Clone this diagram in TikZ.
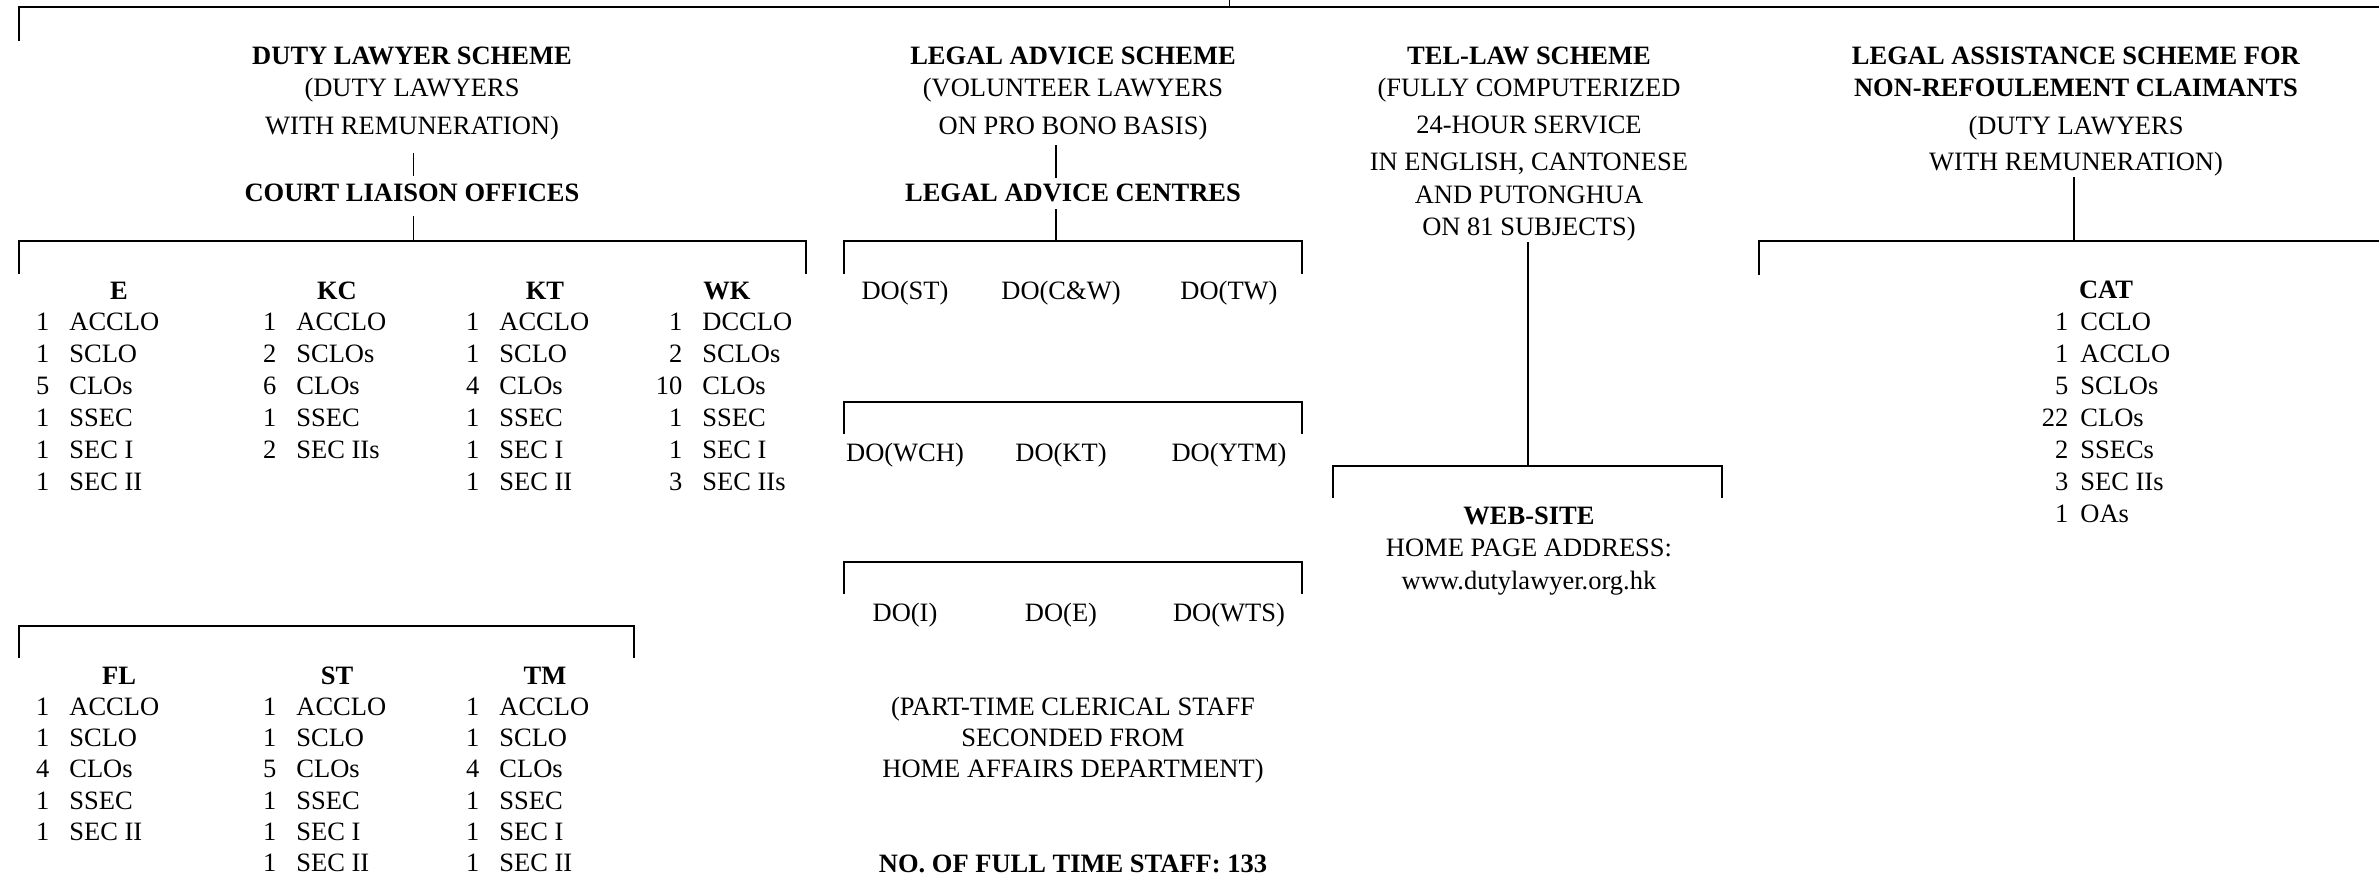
\documentclass[tikz,border=0pt]{standalone}
\usepackage{fontspec}
\setmainfont{Liberation Serif}
\newcommand\nm[1]{\makebox[14pt][r]{#1}}
\begin{document}
\begin{tikzpicture}[x=0.5pt,y=-0.5pt,
  txt/.style={inner sep=0pt, font=\fontsize{13.25}{16}\selectfont},
  hd/.style={txt, anchor=base},
  lst/.style={txt, anchor=base west},
  mainline/.style={line width=1pt, line cap=rect},
  thinline/.style={line width=0.5pt},
]
\useasboundingbox (0,0) rectangle (2379,877);

% ---------- headings ----------
\node[hd] (dls) at (412,65) {\begin{tabular}[t]{@{}c@{}}\textbf{DUTY LAWYER SCHEME}\\(DUTY LAWYERS\\[3pt]WITH REMUNERATION)\end{tabular}};
\node[hd] (clo) at (412,202) {\textbf{COURT LIAISON OFFICES}};

\node[hd] (las) at (1073,65) {\begin{tabular}[t]{@{}c@{}}\textbf{LEGAL ADVICE SCHEME}\\(VOLUNTEER LAWYERS\\[3pt]ON PRO BONO BASIS)\end{tabular}};
\node[hd] (lac) at (1073,202) {\textbf{LEGAL ADVICE CENTRES}};

\node[hd] (tel) at (1529,65) {\begin{tabular}[t]{@{}c@{}}\textbf{TEL-LAW SCHEME}\\(FULLY COMPUTERIZED\\[2.5pt]24-HOUR SERVICE\\[2.5pt]IN ENGLISH, CANTONESE\\[0.5pt]AND PUTONGHUA\\ON 81 SUBJECTS)\end{tabular}};

\node[hd] (lasnrc) at (2076,65) {\begin{tabular}[t]{@{}c@{}}\textbf{LEGAL ASSISTANCE SCHEME FOR}\\\textbf{NON-REFOULEMENT CLAIMANTS}\\[3pt](DUTY LAWYERS\\[2pt]WITH REMUNERATION)\end{tabular}};

\node[hd] (web) at (1529,524) {\begin{tabular}[t]{@{}c@{}}\textbf{WEB-SITE}\\HOME PAGE ADDRESS:\\[0.5pt]www.dutylawyer.org.hk\end{tabular}};

\node[hd] (part) at (1073,715) {\begin{tabular}[t]{@{}c@{}}(PART-TIME CLERICAL STAFF\\[-0.5pt]SECONDED FROM\\[-0.5pt]HOME AFFAIRS DEPARTMENT)\end{tabular}};
\node[hd] (total) at (1073,872) {\textbf{NO. OF FULL TIME STAFF: 133}};

% ---------- court liaison offices ----------
\node[hd] (hE)  at (119,300) {\textbf{E}};
\node[hd] (hKC) at (337,300) {\textbf{KC}};
\node[hd] (hKT) at (545,300) {\textbf{KT}};
\node[hd] (hWK) at (727,300) {\textbf{WK}};

\node[lst] (lE) at (21,331) {\begin{tabular}[t]{@{}l@{\hspace{10pt}}l@{}}\nm{1}&ACCLO\\\nm{1}&SCLO\\\nm{5}&CLOs\\\nm{1}&SSEC\\\nm{1}&SEC I\\\nm{1}&SEC II\end{tabular}};
\node[lst] (lKC) at (248,331) {\begin{tabular}[t]{@{}l@{\hspace{10pt}}l@{}}\nm{1}&ACCLO\\\nm{2}&SCLOs\\\nm{6}&CLOs\\\nm{1}&SSEC\\\nm{2}&SEC IIs\end{tabular}};
\node[lst] (lKT) at (451,331) {\begin{tabular}[t]{@{}l@{\hspace{10pt}}l@{}}\nm{1}&ACCLO\\\nm{1}&SCLO\\\nm{4}&CLOs\\\nm{1}&SSEC\\\nm{1}&SEC I\\\nm{1}&SEC II\end{tabular}};
\node[lst] (lWK) at (654,331) {\begin{tabular}[t]{@{}l@{\hspace{10pt}}l@{}}\nm{1}&DCCLO\\\nm{2}&SCLOs\\\nm{10}&CLOs\\\nm{1}&SSEC\\\nm{1}&SEC I\\\nm{3}&SEC IIs\end{tabular}};

\node[hd] (hFL) at (119,684) {\textbf{FL}};
\node[hd] (hST) at (337,684) {\textbf{ST}};
\node[hd] (hTM) at (545,684) {\textbf{TM}};

\node[lst] (lFL) at (21,715) {\renewcommand\arraystretch{0.98}\begin{tabular}[t]{@{}l@{\hspace{10pt}}l@{}}\nm{1}&ACCLO\\\nm{1}&SCLO\\\nm{4}&CLOs\\\nm{1}&SSEC\\\nm{1}&SEC II\end{tabular}};
\node[lst] (lST) at (248,715) {\renewcommand\arraystretch{0.98}\begin{tabular}[t]{@{}l@{\hspace{10pt}}l@{}}\nm{1}&ACCLO\\\nm{1}&SCLO\\\nm{5}&CLOs\\\nm{1}&SSEC\\\nm{1}&SEC I\\\nm{1}&SEC II\end{tabular}};
\node[lst] (lTM) at (451,715) {\renewcommand\arraystretch{0.98}\begin{tabular}[t]{@{}l@{\hspace{10pt}}l@{}}\nm{1}&ACCLO\\\nm{1}&SCLO\\\nm{4}&CLOs\\\nm{1}&SSEC\\\nm{1}&SEC I\\\nm{1}&SEC II\end{tabular}};

% ---------- CAT ----------
\node[hd] (hCAT) at (2106,299) {\textbf{CAT}};
\node[lst] (lCAT) at (2040,331) {\begin{tabular}[t]{@{}l@{\hspace{6pt}}l@{}}\nm{1}&CCLO\\\nm{1}&ACCLO\\\nm{5}&SCLOs\\\nm{22}&CLOs\\\nm{2}&SSECs\\\nm{3}&SEC IIs\\\nm{1}&OAs\end{tabular}};

% ---------- district offices ----------
\node[hd] (doST)  at (905,300)  {DO(ST)};
\node[hd] (doCW)  at (1061,300) {DO(C\&W)};
\node[hd] (doTW)  at (1229,300) {DO(TW)};
\node[hd] (doWCH) at (905,461)  {DO(WCH)};
\node[hd] (doKT)  at (1061,461) {DO(KT)};
\node[hd] (doYTM) at (1229,461) {DO(YTM)};
\node[hd] (doI)   at (905,621)  {DO(I)};
\node[hd] (doE)   at (1061,621) {DO(E)};
\node[hd] (doWTS) at (1229,621) {DO(WTS)};

% ---------- connector points ----------
\coordinate (topin) at (1229,0);
\coordinate (topjoin) at (1229,7);
\coordinate (topL) at (19,7);
\coordinate (topLd) at (19,40);
\coordinate (topR) at (2379,7);

\coordinate (dlsA) at (413,153);
\coordinate (dlsB) at (413,176);
\coordinate (cloA) at (413,216);
\coordinate (cloB) at (413,241);
\coordinate (cbL) at (19,241);
\coordinate (cbLd) at (19,273);
\coordinate (cbR) at (806,241);
\coordinate (cbRd) at (806,273);

\coordinate (fbL) at (19,626);
\coordinate (fbLd) at (19,657);
\coordinate (fbR) at (634,626);
\coordinate (fbRd) at (634,657);

\coordinate (lasA) at (1056,146);
\coordinate (lasB) at (1056,177);
\coordinate (lacA) at (1056,210);
\coordinate (lacB) at (1056,241);
\coordinate (d1L) at (844,241);
\coordinate (d1Ld) at (844,273);
\coordinate (d1R) at (1302,241);
\coordinate (d1Rd) at (1302,273);
\coordinate (d2L) at (844,402);
\coordinate (d2Ld) at (844,433);
\coordinate (d2R) at (1302,402);
\coordinate (d2Rd) at (1302,433);
\coordinate (d3L) at (844,562);
\coordinate (d3Ld) at (844,593);
\coordinate (d3R) at (1302,562);
\coordinate (d3Rd) at (1302,593);

\coordinate (telA) at (1528,243);
\coordinate (telB) at (1528,466);
\coordinate (wbL) at (1333,466);
\coordinate (wbLd) at (1333,497);
\coordinate (wbR) at (1722,466);
\coordinate (wbRd) at (1722,497);

\coordinate (nrA) at (2074,178);
\coordinate (nrB) at (2074,241);
\coordinate (nbL) at (1759,241);
\coordinate (nbLd) at (1759,274);
\coordinate (nbR) at (2379,241);

% ---------- connectors ----------
\draw[thinline] (topin) -- (topjoin);
\draw[mainline] (topLd) -- (topL) -- (topR);

\draw[thinline] (dlsA) -- (dlsB);
\draw[thinline] (cloA) -- (cloB);
\draw[mainline] (cbLd) -- (cbL) -- (cbR) -- (cbRd);
\draw[mainline] (fbLd) -- (fbL) -- (fbR) -- (fbRd);

\draw[mainline] (lasA) -- (lasB);
\draw[mainline] (lacA) -- (lacB);
\draw[mainline] (d1Ld) -- (d1L) -- (d1R) -- (d1Rd);
\draw[mainline] (d2Ld) -- (d2L) -- (d2R) -- (d2Rd);
\draw[mainline] (d3Ld) -- (d3L) -- (d3R) -- (d3Rd);

\draw[mainline] (telA) -- (telB);
\draw[mainline] (wbLd) -- (wbL) -- (wbR) -- (wbRd);

\draw[mainline] (nrA) -- (nrB);
\draw[mainline] (nbLd) -- (nbL) -- (nbR);
\end{tikzpicture}
\end{document}
